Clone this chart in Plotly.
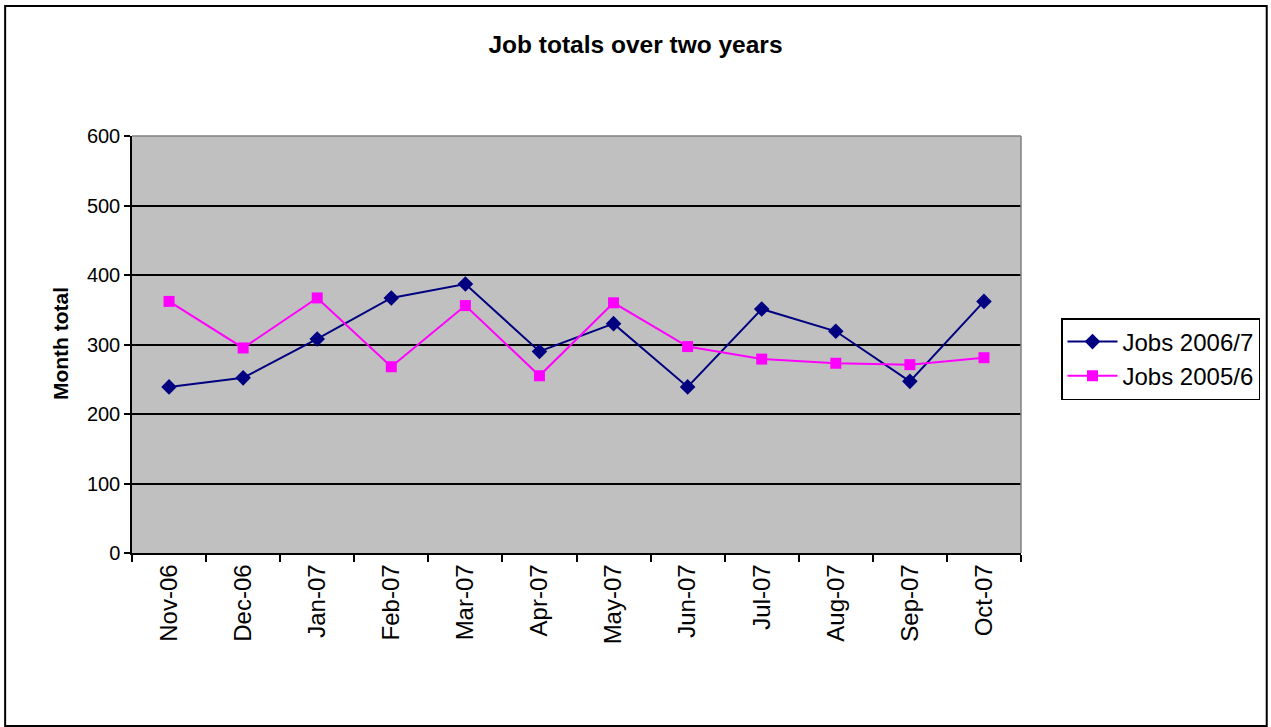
import plotly.graph_objects as go

months = ["Nov-06", "Dec-06", "Jan-07", "Feb-07", "Mar-07", "Apr-07",
          "May-07", "Jun-07", "Jul-07", "Aug-07", "Sep-07", "Oct-07"]
jobs_2006_7 = [239, 252, 308, 367, 387, 290, 330, 239, 351, 319, 247, 362]
jobs_2005_6 = [362, 295, 367, 268, 356, 255, 360, 297, 279, 273, 271, 281]

FONT = "Liberation Sans, Arial, sans-serif"

fig = go.Figure()
fig.add_trace(go.Scatter(
    x=months, y=jobs_2006_7, name="Jobs 2006/7", mode="lines+markers",
    line=dict(color="#000080", width=2),
    marker=dict(symbol="diamond", size=12, color="#000080"),
))
fig.add_trace(go.Scatter(
    x=months, y=jobs_2005_6, name="Jobs 2005/6", mode="lines+markers",
    line=dict(color="#FF00FF", width=2),
    marker=dict(symbol="square", size=11, color="#FF00FF"),
))

fig.update_layout(
    width=1271, height=727,
    margin=dict(l=132, r=249, t=136, b=174),
    paper_bgcolor="white",
    plot_bgcolor="#C0C0C0",
    font=dict(family=FONT, size=20, color="black"),
    title=dict(text="<b>Job totals over two years</b>", x=0.5, xref="container",
               y=1 - 44 / 727, yref="container", yanchor="middle",
               font=dict(family=FONT, size=24.5, color="black")),
    showlegend=True,
    legend=dict(x=(1061 - 132) / 890, y=(553 - 359) / 417, xanchor="left", yanchor="middle",
                bgcolor="white", bordercolor="black", borderwidth=1.5,
                font=dict(family=FONT, size=24, color="black"),
                itemwidth=50, tracegroupgap=0),
    xaxis=dict(type="category", range=[-0.5, 11.5], tickson="boundaries",
               ticks="outside", ticklen=7, tickcolor="black", tickwidth=1.5,
               showline=True, linecolor="black", linewidth=1.5,
               showgrid=False, tickangle=-90,
               tickfont=dict(family=FONT, size=24, color="black"),
               mirror=False),
    yaxis=dict(range=[0, 600], dtick=100, tick0=0,
               ticks="outside", ticklen=6, tickcolor="black", tickwidth=1.5,
               showline=True, linecolor="black", linewidth=1.5,
               showgrid=True, gridcolor="black", gridwidth=1.5,
               zeroline=False,
               tickfont=dict(family=FONT, size=20, color="black")),
)

fig.add_annotation(text="<b>Month total</b>", xref="paper", yref="paper",
                   x=(60 - 132) / 890, y=(553 - 344) / 417, textangle=-90,
                   showarrow=False, xanchor="center", yanchor="middle",
                   font=dict(family=FONT, size=21, color="black"))

# plot-area top/right border (gray)
fig.add_shape(type="line", xref="paper", yref="paper", x0=0, x1=1, y0=1, y1=1,
              line=dict(color="#808080", width=1.5))
fig.add_shape(type="line", xref="paper", yref="paper", x0=1, x1=1, y0=0, y1=1,
              line=dict(color="#808080", width=1.5))

# outer chart border
fig.add_shape(type="rect", xref="paper", yref="paper",
              x0=(5 - 132) / 890, x1=(1268 - 132) / 890,
              y0=(553 - 726) / 417, y1=(553 - 6) / 417,
              line=dict(color="black", width=2))

fig.write_html("out.html", config={"displayModeBar": False},
               post_script="document.body.style.margin='0';")
